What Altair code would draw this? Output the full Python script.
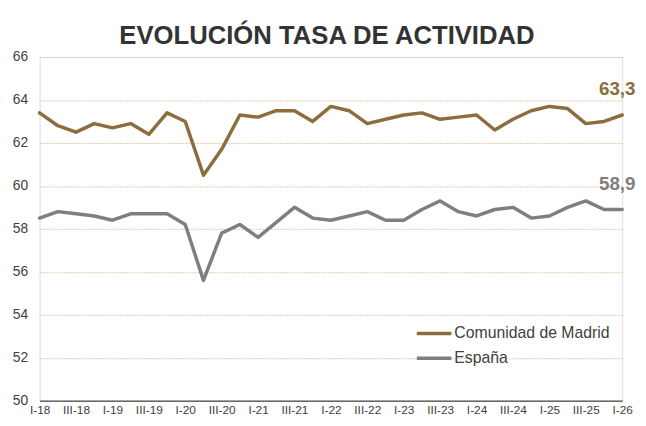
import altair as alt
import pandas as pd

REG = "Liberation Sans, Arial, sans-serif"

title_text = "EVOLUCIÓN TASA DE ACTIVIDAD"
quarters = ["I-18", "II-18", "III-18", "IV-18", "I-19", "II-19", "III-19", "IV-19",
            "I-20", "II-20", "III-20", "IV-20", "I-21", "II-21", "III-21", "IV-21",
            "I-22", "II-22", "III-22", "IV-22", "I-23", "II-23", "III-23", "IV-23",
            "I-24", "II-24", "III-24", "IV-24", "I-25", "II-25", "III-25", "IV-25",
            "I-26"]
madrid = [63.4, 62.8, 62.5, 62.9, 62.7, 62.9, 62.4, 63.4, 63.0, 60.5, 61.7, 63.3,
          63.2, 63.5, 63.5, 63.0, 63.7, 63.5, 62.9, 63.1, 63.3, 63.4, 63.1, 63.2,
          63.3, 62.6, 63.1, 63.5, 63.7, 63.6, 62.9, 63.0, 63.3]
espana = [58.5, 58.8, 58.7, 58.6, 58.4, 58.7, 58.7, 58.7, 58.2, 55.6, 57.8, 58.2,
          57.6, 58.3, 59.0, 58.5, 58.4, 58.6, 58.8, 58.4, 58.4, 58.9, 59.3, 58.8,
          58.6, 58.9, 59.0, 58.5, 58.6, 59.0, 59.3, 58.9, 58.9]
series = ["Comunidad de Madrid", "España"]
colors = ["#8b6d3e", "#7f7f7f"]
tick_labels = quarters[::2]
y_ticks = [50, 52, 54, 56, 58, 60, 62, 64, 66]

rows = []
for name, vals in zip(series, [madrid, espana]):
    for i, (q, v) in enumerate(zip(quarters, vals)):
        rows.append({"trimestre": q, "serie": name, "valor": v, "orden": i})
df = pd.DataFrame(rows)

last = df[df["orden"] == len(quarters) - 1].copy()
last["etiqueta"] = last["valor"].map(lambda v: f"{v:.1f}".replace(".", ","))

x = alt.X("trimestre:O", sort=quarters,
          scale=alt.Scale(type="point", padding=0),
          axis=alt.Axis(values=tick_labels, title=None, labelAngle=0, ticks=False,
                        domainColor="#262626", domainWidth=1, grid=False,
                        labelFont=REG, labelFontSize=12, labelColor="#404040",
                        labelPadding=4))
y = alt.Y("valor:Q", scale=alt.Scale(domain=[50, 66], nice=False, zero=False),
          axis=alt.Axis(values=y_ticks, title=None, domain=False, ticks=False,
                        grid=True, gridColor="#dccbaa", gridDash=[2, 1], gridWidth=1,
                        labelFont=REG, labelFontSize=14, labelColor="#404040",
                        labelPadding=12))
color = alt.Color("serie:N", scale=alt.Scale(domain=series, range=colors), legend=None)

lines = alt.Chart(df).mark_line(strokeWidth=3.5, strokeJoin="round", strokeCap="round").encode(
    x=x, y=y, color=color)

labels = alt.Chart(last).mark_text(font=REG, fontSize=19, fontWeight="bold",
                                   dy=-26, dx=-5).encode(
    x=x, y=y, color=color, text="etiqueta:N")

title = alt.Chart(pd.DataFrame({"t": [title_text]})).mark_text(
    font=REG, fontSize=26, fontWeight="bold", color="#333333",
    align="center", baseline="alphabetic").encode(
    x=alt.value(291), y=alt.value(-13), text="t:N")

layers = [lines, labels, title]
for k, (name, col) in enumerate(zip(series, colors)):
    ypos = 280 + 25 * k
    ld = pd.DataFrame({"t": [name]})
    layers.append(alt.Chart(ld).mark_rule(color=col, strokeWidth=3.5).encode(
        x=alt.value(382), x2=alt.value(417), y=alt.value(ypos)))
    layers.append(alt.Chart(ld).mark_text(align="left", baseline="middle", font=REG,
                                          fontSize=16, color="#404040").encode(
        x=alt.value(420), y=alt.value(ypos), text="t:N"))

chart = alt.layer(*layers).properties(
    width=590, height=348,
    autosize=alt.AutoSizeParams(type="none"),
    padding={"left": 32, "top": 47, "right": 16, "bottom": 20},
).configure_view(stroke=None).configure(background="white")

chart.save("out.html", embed_options={"renderer": "svg", "actions": False})
